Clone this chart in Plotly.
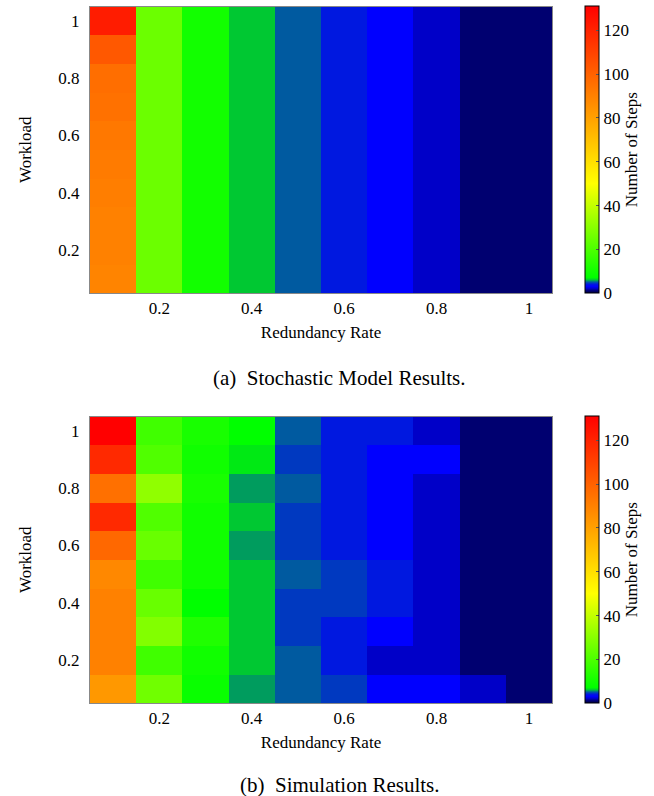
import plotly.graph_objects as go

# ---- data ----
redundancy = [0.1, 0.2, 0.3, 0.4, 0.5, 0.6, 0.7, 0.8, 0.9, 1.0]
workload = [0.1, 0.2, 0.3, 0.4, 0.5, 0.6, 0.7, 0.8, 0.9, 1.0]

# rows: workload 0.1 .. 1.0 ; columns: redundancy 0.1 .. 1.0
model_steps = [
    [89, 25, 10, 6, 5, 4, 3, 2, 1, 1],
    [90, 25, 10, 6, 5, 4, 3, 2, 1, 1],
    [90, 25, 10, 6, 5, 4, 3, 2, 1, 1],
    [91, 25, 10, 6, 5, 4, 3, 2, 1, 1],
    [92, 25, 10, 6, 5, 4, 3, 2, 1, 1],
    [93, 25, 10, 6, 5, 4, 3, 2, 1, 1],
    [95, 25, 10, 6, 5, 4, 3, 2, 1, 1],
    [96, 25, 10, 6, 5, 4, 3, 2, 1, 1],
    [103, 25, 10, 6, 5, 4, 3, 2, 1, 1],
    [122, 25, 10, 6, 5, 4, 3, 2, 1, 1],
]

sim_steps = [
    [82.7, 25.9, 8.5, 5.6, 5.0, 4.5, 3, 3, 2, 1],
    [90, 17.8, 9.7, 6.0, 5.0, 4.0, 2, 2, 1, 1],
    [90, 29.0, 12.4, 6.0, 4.5, 4.0, 3, 2, 1, 1],
    [90, 24.5, 7.0, 6.0, 4.5, 4.5, 4, 2, 1, 1],
    [87.8, 17.8, 9.7, 6.0, 5.0, 4.5, 4, 2, 1, 1],
    [98, 24.5, 9.7, 5.6, 4.5, 4.0, 3, 2, 1, 1],
    [118, 20.5, 9.7, 6.0, 4.5, 4.0, 3, 2, 1, 1],
    [95.4, 31.3, 11, 5.6, 5.0, 4.0, 3, 2, 1, 1],
    [118, 20.5, 9.7, 6.6, 4.5, 4.0, 3, 3, 1, 1],
    [131, 17.8, 11, 7.0, 5.0, 4.0, 4, 2, 1, 1],
]

tick_vals = [0.2, 0.4, 0.6, 0.8, 1.0]
tick_text = ["0.2", "0.4", "0.6", "0.8", "1"]
cb_ticks = [0, 20, 40, 60, 80, 100, 120]

ZMAX = 131.0
stops = [
    (0, "rgb(0,0,70)"), (1, "rgb(0,0,112)"), (2, "rgb(0,0,200)"),
    (3, "rgb(0,0,255)"), (4, "rgb(0,24,224)"), (5, "rgb(0,90,160)"),
    (6, "rgb(0,200,50)"), (7, "rgb(0,255,0)"), (50, "rgb(255,255,0)"),
    (ZMAX, "rgb(255,0,0)"),
]
colorscale = [[v / ZMAX, c] for v, c in stops]

FONT = "Liberation Serif, 'Times New Roman', Times, serif"
W, H = 654, 796
x0, x1 = 90, 552
panels = [(6.5, 293), (416.5, 703)]


def py(p):
    return 1 - p / H


fig = go.Figure()
for i, (z, (top, bot)) in enumerate(zip([model_steps, sim_steps], panels)):
    fig.add_trace(go.Heatmap(
        x=redundancy, y=workload, z=z, zmin=0, zmax=ZMAX,
        colorscale=colorscale, xaxis="x" if i == 0 else "x2",
        yaxis="y" if i == 0 else "y2", hoverongaps=False,
        colorbar=dict(
            x=585 / W, xanchor="left", xpad=0, ypad=0,
            y=py((top + bot) / 2), yanchor="middle",
            len=bot - top, lenmode="pixels", thickness=14,
            outlinewidth=1, outlinecolor="black",
            tickvals=cb_ticks, ticks="inside", ticklen=3, tickcolor="#555",
            tickfont=dict(family=FONT, size=17, color="black"),
            title=dict(text="Number of Steps", side="right",
                       font=dict(family=FONT, size=17, color="black")),
        ),
    ))

axis_common = dict(showline=True, linecolor="#888", linewidth=1, mirror=True,
                   showgrid=False, zeroline=False, ticks="",
                   tickfont=dict(family=FONT, size=17, color="black"))

layout = dict(
    width=W, height=H, margin=dict(l=0, r=0, t=0, b=0),
    paper_bgcolor="white", plot_bgcolor="white", showlegend=False,
    font=dict(family=FONT, color="black"),
)
for i, (top, bot) in enumerate(panels):
    sx = "" if i == 0 else "2"
    layout["xaxis" + sx] = dict(
        axis_common, domain=[x0 / W, x1 / W], range=[0.05, 1.05],
        tickvals=tick_vals, ticktext=tick_text,
        anchor="y" + sx,
        title=dict(text="Redundancy Rate", font=dict(family=FONT, size=17), standoff=8),
    )
    layout["yaxis" + sx] = dict(
        axis_common, domain=[py(bot), py(top)], range=[0.05, 1.05],
        tickvals=tick_vals, ticktext=tick_text, ticklabelstandoff=6,
        anchor="x" + sx,
        title=dict(text="Workload", font=dict(family=FONT, size=17), standoff=22),
    )

fig.update_layout(**layout)

captions = [("(a)  Stochastic Model Results.", 378, 339), ("(b)  Simulation Results.", 785, 340)]
for txt, yy, xx in captions:
    fig.add_annotation(text=txt, x=xx / W, y=py(yy),
                       xref="paper", yref="paper", showarrow=False,
                       xanchor="center", yanchor="middle",
                       font=dict(family=FONT, size=21, color="black"))

fig.write_html("out.html")
